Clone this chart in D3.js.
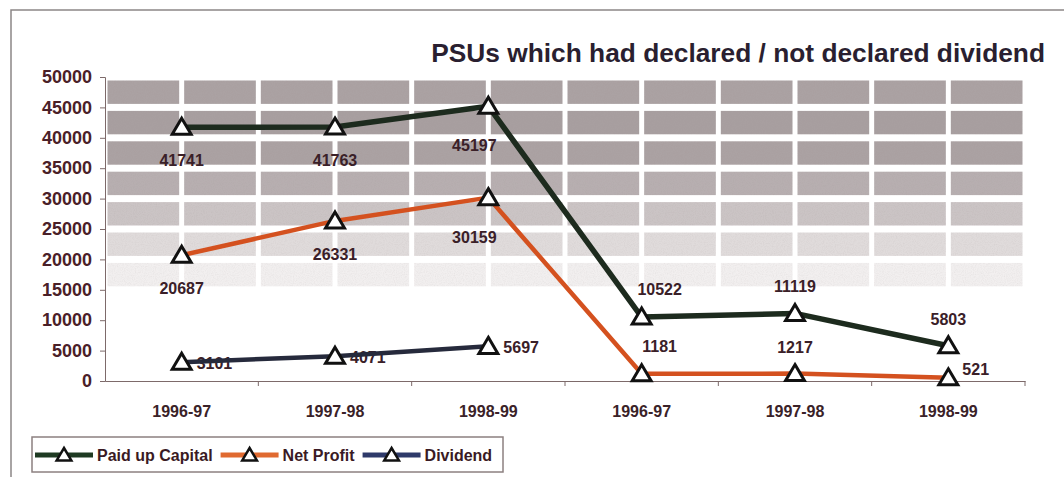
<!DOCTYPE html>
<html>
<head>
<meta charset="utf-8">
<script src="https://cdn.jsdelivr.net/npm/d3@7"></script>
<style>
  body { margin: 0; background: #fff; }
  svg { display: block; font-family: "Liberation Sans", Arial, sans-serif; }
  .tick-label { font-size: 18px; font-weight: bold; fill: #4a2028; }
  .x-label { font-size: 16px; font-weight: bold; fill: #3a2228; }
  .data-label { font-size: 16px; font-weight: bold; fill: #3a2028; }
  .legend-text { font-size: 16px; font-weight: bold; fill: #3a1a24; }
</style>
</head>
<body>
<div class="chartDiv"></div>
<script>
// chart values
var categories = ["1996-97", "1997-98", "1998-99", "1996-97", "1997-98", "1998-99"];
var paidUpCapital = [41741, 41763, 45197, 10522, 11119, 5803];
var netProfit = [20687, 26331, 30159, 1181, 1217, 521];
var dividend = [3101, 4071, 5697];
var yTickValues = [0, 5000, 10000, 15000, 20000, 25000, 30000, 35000, 40000, 45000, 50000];
var seriesNames = ["Paid up Capital", "Net Profit", "Dividend"];

var width = 1064, height = 477;
var margin = { top: 77, right: 39, bottom: 96, left: 105 };

var svg = d3.select('.chartDiv').append('svg')
    .attr('width', width)
    .attr('height', height);

// outer frame of the chart
svg.append("path")
    .attr("d", "M11,477 V10 H1064")
    .attr("fill", "none")
    .attr("stroke", "#8c8686")
    .attr("stroke-width", 1.5);

var x = d3.scaleBand()
    .domain(d3.range(categories.length))
    .range([margin.left, width - margin.right])
    .padding(0);

var y = d3.scaleLinear()
    .domain([0, 50000])
    .range([height - margin.bottom, margin.top]);

// brick-like shaded background, fading out toward the bottom
var rowFill = d3.scaleLinear()
    .domain([50000, 45000, 40000, 35000, 30000, 25000, 20000])
    .range(["#aba2a3", "#a89fa0", "#aba2a3", "#b7afb0", "#cbc4c5", "#e0dbdb", "#f2efef"]);

var half = x.bandwidth() / 2;
var cols = d3.range(categories.length * 2);
var rows = yTickValues.slice(1).filter(function(v) { return v > 15000; });

var defs = svg.append("defs");
var noise = defs.append("filter").attr("id", "grain")
    .attr("x", 0).attr("y", 0).attr("width", 1).attr("height", 1);
noise.append("feTurbulence")
    .attr("type", "fractalNoise").attr("baseFrequency", 0.9).attr("numOctaves", 2).attr("seed", 4)
    .attr("result", "n");
noise.append("feColorMatrix")
    .attr("in", "n").attr("type", "matrix")
    .attr("values", "0 0 0 0 0.35  0 0 0 0 0.3  0 0 0 0 0.3  0 0 0 0.3 -0.12")
    .attr("result", "dots");
noise.append("feComposite").attr("in", "dots").attr("in2", "SourceGraphic").attr("operator", "in").attr("result", "d2");
var merge = noise.append("feMerge");
merge.append("feMergeNode").attr("in", "SourceGraphic");
merge.append("feMergeNode").attr("in", "d2");

var bg = svg.append("g").attr("class", "background").attr("filter", "url(#grain)");
rows.forEach(function(top) {
  var bottom = top - 5000;
  bg.selectAll(null)
    .data(cols)
    .enter().append("rect")
      .attr("x", function(c) { return margin.left + c * half + 2.5; })
      .attr("y", y(top) + 3.5)
      .attr("width", half - 5)
      .attr("height", y(bottom) - y(top) - 7)
      .attr("fill", rowFill(top));
});

// axes
var axisColor = "#7d6a6a";
var yAxis = svg.append("g")
    .attr("transform", "translate(" + margin.left + ",0)")
    .call(d3.axisLeft(y).tickValues(yTickValues).tickSize(5).tickPadding(8).tickFormat(d3.format("d")));
yAxis.select(".domain").attr("stroke", axisColor);
yAxis.selectAll(".tick line").attr("stroke", axisColor);
yAxis.selectAll(".tick text").attr("class", "tick-label").attr("font-size", null).attr("font-family", null);

var xAxis = svg.append("g")
    .attr("transform", "translate(0," + y(0) + ")")
    .call(d3.axisBottom(x).tickSize(0).tickPadding(25).tickFormat(function(i) { return categories[i]; }));
xAxis.select(".domain").attr("stroke", axisColor);
xAxis.selectAll(".tick text").attr("class", "x-label").attr("font-size", null).attr("font-family", null);

// tick marks between categories
svg.append("g").selectAll("line")
    .data(d3.range(1, categories.length + 1))
    .enter().append("line")
      .attr("x1", function(i) { return margin.left + i * x.bandwidth(); })
      .attr("x2", function(i) { return margin.left + i * x.bandwidth(); })
      .attr("y1", y(0))
      .attr("y2", y(0) + 5)
      .attr("stroke", axisColor);

var series = [
  { name: seriesNames[0], values: paidUpCapital, color: "#1d2b1e", legendColor: "#1e3a22", width: 5.5,
    labels: ["below", "below", "belowLeft", "aboveRight", "above", "above"] },
  { name: seriesNames[1], values: netProfit, color: "#d4511f", legendColor: "#e06a30", width: 4.5,
    labels: ["below", "below", "belowLeft", "aboveRight", "above", "rightUp"] },
  { name: seriesNames[2], values: dividend, color: "#262a3c", legendColor: "#2e3a6a", width: 4.5,
    labels: ["right", "right", "right"] }
];

var line = d3.line()
    .x(function(d, i) { return x(i) + half; })
    .y(function(d) { return y(d); });

var triangle = function(s) {
  return "M0," + (-s) + "L" + (s * 1.05) + "," + (s * 0.78) + "L" + (-s * 1.05) + "," + (s * 0.78) + "Z";
};

// labels first: the dividend line runs across its own labels
var offsets = {
  below: [0, 39, "middle"], belowLeft: [-14, 45, "middle"], above: [0, -21, "middle"],
  aboveRight: [18, -22, "middle"], right: [15, 7, "start"], rightUp: [14, -3, "start"]
};
series.forEach(function(s) {
  svg.append("g").selectAll("text")
    .data(s.values)
    .enter().append("text")
      .attr("class", "data-label")
      .attr("text-anchor", function(d, i) { return offsets[s.labels[i]][2]; })
      .attr("x", function(d, i) { return x(i) + half + offsets[s.labels[i]][0]; })
      .attr("y", function(d, i) { return y(d) + offsets[s.labels[i]][1]; })
      .text(function(d) { return d; });
});

series.forEach(function(s) {
  svg.append("path")
    .datum(s.values)
    .attr("class", "series-line")
    .attr("d", line)
    .attr("fill", "none")
    .attr("stroke", s.color)
    .attr("stroke-width", s.width)
    .attr("stroke-linejoin", "round");
});

series.forEach(function(s) {
  svg.append("g").selectAll("path")
    .data(s.values)
    .enter().append("path")
      .attr("d", triangle(9))
      .attr("transform", function(d, i) { return "translate(" + (x(i) + half) + "," + y(d) + ")"; })
      .attr("fill", "#fff")
      .attr("stroke", "#111")
      .attr("stroke-width", 3)
      .attr("stroke-linejoin", "miter");
});

// title
svg.append("text")
    .attr("x", 1045)
    .attr("y", 62)
    .attr("text-anchor", "end")
    .style("font-size", "26.3px")
    .style("font-weight", "bold")
    .style("fill", "#2a1f30")
    .text("PSUs which had declared / not declared dividend");

// legend
var legend = svg.append("g").attr("class", "legend");
legend.append("rect")
    .attr("x", 32).attr("y", 437).attr("width", 471).attr("height", 35)
    .attr("fill", "#fff").attr("stroke", "#8c8080").attr("stroke-width", 1.5);

var lx = 35;
series.forEach(function(s) {
  var g = legend.append("g").attr("transform", "translate(" + lx + ",455)");
  g.append("line").attr("x1", 0).attr("x2", 58).attr("y1", 0).attr("y2", 0)
    .attr("stroke", s.legendColor).attr("stroke-width", 5);
  g.append("path").attr("d", triangle(7)).attr("transform", "translate(29,0)")
    .attr("fill", "#fff").attr("stroke", "#111").attr("stroke-width", 2.5);
  var t = g.append("text").attr("class", "legend-text").attr("x", 62).attr("y", 6).text(s.name);
  lx += 62 + t.node().getComputedTextLength() + 8;
});
</script>
</body>
</html>
